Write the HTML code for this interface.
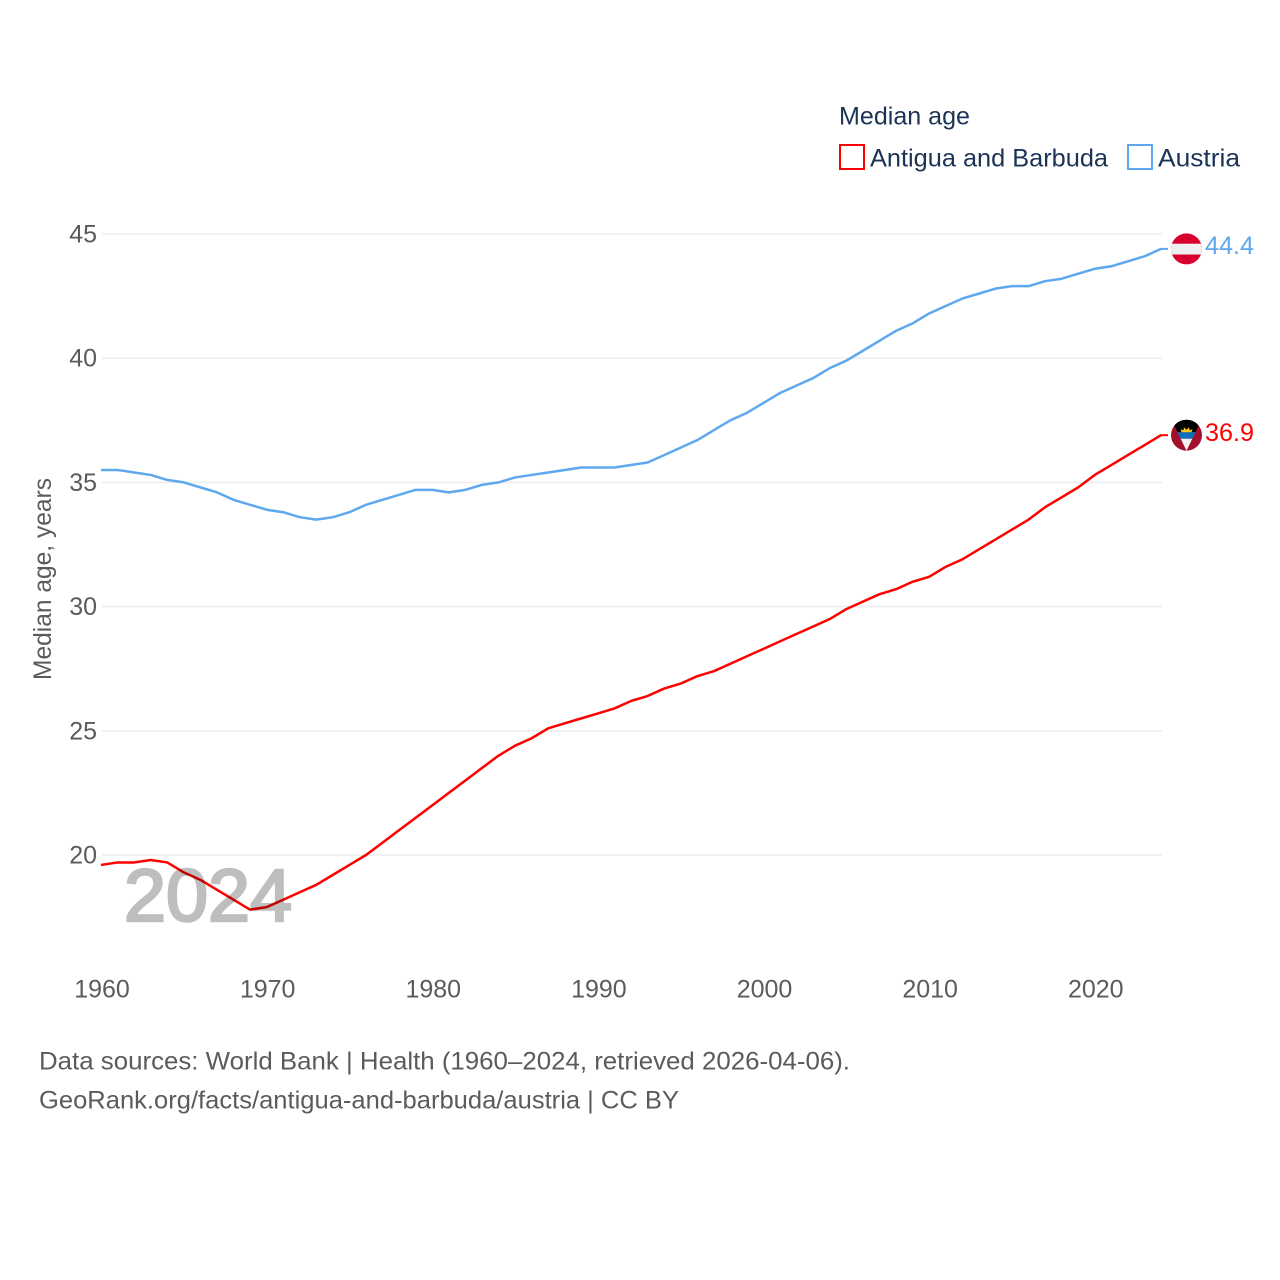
<!DOCTYPE html>
<html lang="en">
<head>
<meta charset="utf-8">
<title>Median age: Antigua and Barbuda vs Austria</title>
<style>
html,body{margin:0;padding:0;background:#fff;width:1280px;height:1280px;overflow:hidden}
svg{display:block}
text{font-family:"Liberation Sans",sans-serif}
</style>
</head>
<body>
<svg id="chart" xmlns="http://www.w3.org/2000/svg" width="1280" height="1280" viewBox="0 0 1280 1280">
  <defs>
    <clipPath id="flag-clip"><circle cx="0" cy="0" r="15.5"/></clipPath>
    <clipPath id="v-clip"><polygon points="-15,-15.5 15,-15.5 0,15.5"/></clipPath>
  </defs>
  <g id="grid"></g>
  <g id="y-ticks"></g>
  <g id="x-ticks"></g>
  <g id="series"></g>
  <text transform="translate(51,680) rotate(-90)" font-size="25" fill="#5b5b5b" textLength="202" lengthAdjust="spacingAndGlyphs">Median age, years</text>
  <text x="124" y="921" font-size="74" fill="#000" stroke="#000" stroke-width="2.6" opacity="0.25" textLength="168" lengthAdjust="spacingAndGlyphs">2024</text>
  <g>
    <text x="839" y="124.5" font-size="25" fill="#1b3354" textLength="131" lengthAdjust="spacingAndGlyphs">Median age</text>
    <rect x="840" y="145" width="24" height="24" fill="#fff" stroke="#ff0000" stroke-width="2"/>
    <text x="870" y="166.5" font-size="25" fill="#1b3354" textLength="238" lengthAdjust="spacingAndGlyphs">Antigua and Barbuda</text>
    <rect x="1128" y="145" width="24" height="24" fill="#fff" stroke="#5da8ee" stroke-width="2"/>
    <text x="1158" y="166.5" font-size="25" fill="#1b3354" textLength="82" lengthAdjust="spacingAndGlyphs">Austria</text>
  </g>
  <g id="flag-austria">
    <g clip-path="url(#flag-clip)">
      <rect x="-16" y="-16" width="32" height="32" fill="#d8002c"/>
      <rect x="-16" y="-5.2" width="32" height="10.8" fill="#f0f0f0"/>
    </g>
  </g>
  <g id="flag-antigua">
    <g clip-path="url(#flag-clip)">
      <rect x="-16" y="-16" width="32" height="32" fill="#a2102c"/>
      <g clip-path="url(#v-clip)">
        <rect x="-16" y="-16" width="32" height="13" fill="#000"/>
        <rect x="-16" y="-3" width="32" height="6.5" fill="#0b6fc0"/>
        <rect x="-16" y="3.5" width="32" height="13" fill="#f2f2f2"/>
        <polygon points="-5,-3 -6,-6 -3,-5 -2.5,-8 0,-5.5 2.5,-8 3,-5 6,-6 5,-3" fill="#f6c81e"/>
      </g>
    </g>
  </g>
  <g>
    <text x="39" y="1069.5" font-size="25" fill="#5b5b5b" textLength="811" lengthAdjust="spacingAndGlyphs">Data sources: World Bank | Health (1960–2024, retrieved 2026-04-06).</text>
    <text x="39" y="1108.5" font-size="25" fill="#5b5b5b" textLength="640" lengthAdjust="spacingAndGlyphs">GeoRank.org/facts/antigua-and-barbuda/austria | CC BY</text>
  </g>
</svg>
<script>
const years = [1960,1961,1962,1963,1964,1965,1966,1967,1968,1969,1970,1971,1972,1973,1974,1975,1976,1977,1978,1979,1980,1981,1982,1983,1984,1985,1986,1987,1988,1989,1990,1991,1992,1993,1994,1995,1996,1997,1998,1999,2000,2001,2002,2003,2004,2005,2006,2007,2008,2009,2010,2011,2012,2013,2014,2015,2016,2017,2018,2019,2020,2021,2022,2023,2024];
const austriaValues = [35.5,35.5,35.4,35.3,35.1,35.0,34.8,34.6,34.3,34.1,33.9,33.8,33.6,33.5,33.6,33.8,34.1,34.3,34.5,34.7,34.7,34.6,34.7,34.9,35.0,35.2,35.3,35.4,35.5,35.6,35.6,35.6,35.7,35.8,36.1,36.4,36.7,37.1,37.5,37.8,38.2,38.6,38.9,39.2,39.6,39.9,40.3,40.7,41.1,41.4,41.8,42.1,42.4,42.6,42.8,42.9,42.9,43.1,43.2,43.4,43.6,43.7,43.9,44.1,44.4];
const antiguaValues = [19.6,19.7,19.7,19.8,19.7,19.3,19.0,18.6,18.2,17.8,17.9,18.2,18.5,18.8,19.2,19.6,20.0,20.5,21.0,21.5,22.0,22.5,23.0,23.5,24.0,24.4,24.7,25.1,25.3,25.5,25.7,25.9,26.2,26.4,26.7,26.9,27.2,27.4,27.7,28.0,28.3,28.6,28.9,29.2,29.5,29.9,30.2,30.5,30.7,31.0,31.2,31.6,31.9,32.3,32.7,33.1,33.5,34.0,34.4,34.8,35.3,35.7,36.1,36.5,36.9];
const yTickValues = [20,25,30,35,40,45];
const xTickValues = [1960,1970,1980,1990,2000,2010,2020];

const SVG_NS = 'http://www.w3.org/2000/svg';
const plot = { left: 101, right: 1161, gridLeft: 102, gridRight: 1162, yAt20: 855, yAt45: 234 };
function xScale(year) {
  return plot.left + (year - 1960) * (plot.right - plot.left) / (2024 - 1960);
}
function yScale(value) {
  return plot.yAt20 + (value - 20) * (plot.yAt45 - plot.yAt20) / (45 - 20);
}

const gridGroup = document.getElementById('grid');
const yTickGroup = document.getElementById('y-ticks');
yTickValues.forEach(function (tick) {
  const line = document.createElementNS(SVG_NS, 'line');
  
  
  line.setAttribute('x1', plot.gridLeft);
  line.setAttribute('x2', plot.gridRight);
  line.setAttribute('y1', yScale(tick));
  line.setAttribute('y2', yScale(tick));
  line.setAttribute('stroke', '#eeeeee');
  line.setAttribute('stroke-width', '1.6');
  gridGroup.appendChild(line);

  const label = document.createElementNS(SVG_NS, 'text');
  
  
  label.setAttribute('x', 97);
  label.setAttribute('y', yScale(tick) + 8.5);
  label.setAttribute('text-anchor', 'end');
  label.setAttribute('font-size', '25');
  label.setAttribute('fill', '#5b5b5b');
  label.textContent = String(tick);
  yTickGroup.appendChild(label);
});

const xTickGroup = document.getElementById('x-ticks');
xTickValues.forEach(function (tick) {
  const label = document.createElementNS(SVG_NS, 'text');
  
  
  label.setAttribute('x', xScale(tick) + 1);
  label.setAttribute('y', 997.5);
  label.setAttribute('text-anchor', 'middle');
  label.setAttribute('font-size', '25');
  label.setAttribute('fill', '#5b5b5b');
  label.textContent = String(tick);
  xTickGroup.appendChild(label);
});

const seriesGroup = document.getElementById('series');
function drawSeries(values, color, lineName, stubName, labelName, flagId, labelDy) {
  const points = values.map(function (v, i) {
    return xScale(years[i]).toFixed(2) + ',' + yScale(v).toFixed(2);
  }).join(' ');
  const poly = document.createElementNS(SVG_NS, 'polyline');
  
  
  poly.setAttribute('points', points);
  poly.setAttribute('fill', 'none');
  poly.setAttribute('stroke', color);
  poly.setAttribute('stroke-width', '2.5');
  poly.setAttribute('stroke-linejoin', 'round');
  seriesGroup.appendChild(poly);

  const last = values[values.length - 1];
  const lastX = xScale(years[years.length - 1]);
  const lastY = yScale(last);

  const stub = document.createElementNS(SVG_NS, 'line');
  
  
  stub.setAttribute('x1', lastX - 1);
  stub.setAttribute('x2', lastX + 7);
  stub.setAttribute('y1', lastY);
  stub.setAttribute('y2', lastY);
  stub.setAttribute('stroke', color);
  stub.setAttribute('stroke-width', '2');
  seriesGroup.appendChild(stub);

  const valueLabel = document.createElementNS(SVG_NS, 'text');
  
  
  valueLabel.setAttribute('x', lastX + 44);
  valueLabel.setAttribute('y', lastY + labelDy);
  valueLabel.setAttribute('font-size', '25');
  valueLabel.setAttribute('fill', color);
  valueLabel.setAttribute('textLength', '49');
  valueLabel.setAttribute('lengthAdjust', 'spacingAndGlyphs');
  valueLabel.textContent = last.toFixed(1);
  seriesGroup.appendChild(valueLabel);

  document.getElementById(flagId).setAttribute('transform', 'translate(' + (lastX + 25.5) + ',' + lastY + ')');
}
drawSeries(antiguaValues, '#ff0000', 'antigua-line', 'antigua-end-connector', 'antigua-end-value', 'flag-antigua', 6);
drawSeries(austriaValues, '#5da8ee', 'austria-line', 'austria-end-connector', 'austria-end-value', 'flag-austria', 5);
</script>
</body>
</html>
